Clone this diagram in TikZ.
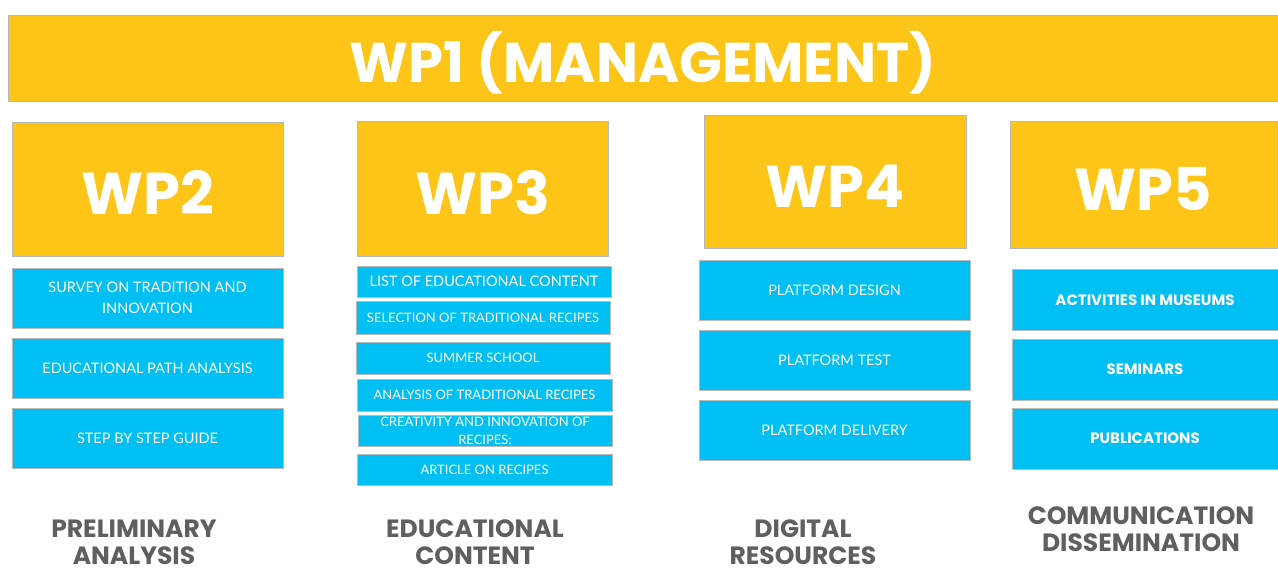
\documentclass[tikz,border=0pt]{standalone}
\usepackage{fontspec}
\newfontfamily\headfont{Poppins}
\newfontfamily\taskfont{Lato}
\definecolor{wpYellow}{RGB}{253,197,24}
\definecolor{taskBlue}{RGB}{0,191,243}
\definecolor{labelGray}{RGB}{95,95,95}
\definecolor{edgeGray}{RGB}{185,185,185}

\tikzset{
  wpbox/.style={draw=edgeGray, line width=0.8pt, fill=wpYellow, text=white, inner sep=0pt,
    text height=52pt, text depth=0pt, font=\headfont\bfseries\fontsize{59}{59}\selectfont},
  taskbox/.style={draw=edgeGray, line width=0.8pt, fill=taskBlue, text=white, inner sep=0pt,
    align=center, font=\taskfont\fontsize{14.5}{21}\selectfont},
  smalltask/.style={taskbox, font=\taskfont\fontsize{13}{18}\selectfont},
  boldtask/.style={taskbox, font=\headfont\bfseries\fontsize{15}{18}\selectfont},
  colname/.style={text=labelGray, align=center, inner sep=0pt,
    font=\headfont\bfseries\fontsize{25}{27}\selectfont}
}

\begin{document}
\begin{tikzpicture}[x=1pt,y=-1pt]
        \useasboundingbox (0,0) rectangle (1278,572);
        % management banner
        \node[wpbox, minimum width=1270pt, minimum height=86pt, text height=50pt,
              font=\headfont\bfseries\fontsize{56}{56}\selectfont] (wp1) at (643,58) {WP1 (MANAGEMENT)};

        % work packages
        \node[wpbox, minimum width=271pt, minimum height=134pt] (wp2) at (147.5,189) {WP2};
        \node[wpbox, minimum width=251pt, minimum height=135pt] (wp3) at (482.5,188.5) {WP3};
        \node[wpbox, minimum width=262pt, minimum height=133pt] (wp4) at (835,181.5) {WP4};
        \node[wpbox, minimum width=267pt, minimum height=127pt] (wp5) at (1143.5,184.5) {WP5};

        % WP2 tasks
        \node[taskbox, minimum width=271pt, minimum height=60pt] (survey) at (147.5,298) {SURVEY ON TRADITION AND\\INNOVATION};
        \node[taskbox, minimum width=271pt, minimum height=60pt] (path) at (147.5,368.5) {EDUCATIONAL PATH ANALYSIS};
        \node[taskbox, minimum width=271pt, minimum height=60pt] (guide) at (147.5,438.5) {STEP BY STEP GUIDE};

        % WP3 tasks
        \node[taskbox, minimum width=254pt, minimum height=31pt] (list) at (484,281.5) {LIST OF EDUCATIONAL CONTENT};
        \node[smalltask, minimum width=254pt, minimum height=33pt] (select) at (483,317.5) {SELECTION OF TRADITIONAL RECIPES};
        \node[smalltask, minimum width=254pt, minimum height=32pt] (summer) at (483,358) {SUMMER SCHOOL};
        \node[smalltask, minimum width=255pt, minimum height=32pt] (analysis) at (484.5,395) {ANALYSIS OF TRADITIONAL RECIPES};
        \node[smalltask, minimum width=254pt, minimum height=31pt] (creative) at (485,430.5) {CREATIVITY AND INNOVATION OF\\RECIPES:};
        \node[smalltask, minimum width=255pt, minimum height=31pt] (article) at (484.5,469.5) {ARTICLE ON RECIPES};

        % WP4 tasks
        \node[taskbox, minimum width=271pt, minimum height=60pt] (design) at (834.5,290.5) {PLATFORM DESIGN};
        \node[taskbox, minimum width=271pt, minimum height=60pt] (test) at (834.5,360.5) {PLATFORM TEST};
        \node[taskbox, minimum width=271pt, minimum height=60pt] (delivery) at (834.5,430.5) {PLATFORM DELIVERY};

        % WP5 tasks
        \node[boldtask, minimum width=266pt, minimum height=61pt] (museums) at (1145,300) {ACTIVITIES IN MUSEUMS};
        \node[boldtask, minimum width=266pt, minimum height=61pt] (seminars) at (1145,369.5) {SEMINARS};
        \node[boldtask, minimum width=266pt, minimum height=61pt] (pubs) at (1145,438.5) {PUBLICATIONS};

        % column names
        \node[colname] (prelim) at (134,542) {PRELIMINARY\\ANALYSIS};
        \node[colname] (educ) at (475,542) {EDUCATIONAL\\CONTENT};
        \node[colname] (digital) at (803,542) {DIGITAL\\RESOURCES};
        \node[colname] (comm) at (1141,529.5) {COMMUNICATION\\DISSEMINATION};
    \end{tikzpicture}
\end{document}
